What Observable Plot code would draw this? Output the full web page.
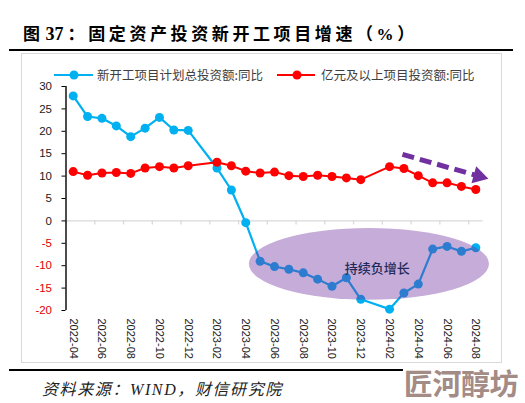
<!DOCTYPE html>
<html>
<head>
<meta charset="utf-8">
<script src="https://cdn.jsdelivr.net/npm/d3@7"></script>
<script src="https://cdn.jsdelivr.net/npm/@observablehq/plot@0.6"></script>
<style>
  html, body { margin: 0; padding: 0; background: #fff; }
  #wrap { position: relative; width: 525px; height: 403px; overflow: hidden; background: #fff; }
  .abs { position: absolute; white-space: nowrap; }
  #title { left: 23px; top: 24px; font: 700 17px/20px "Liberation Serif", "Noto Sans CJK SC", serif; letter-spacing: 3.6px; color: #000; }
  #title .num { letter-spacing: 0; margin-left: 2px; margin-right: 4px; font-size: 18px; }
  #titleRule { left: 9px; top: 48.5px; width: 504px; height: 2px; background: #000; }
  #box { left: 21px; top: 53px; width: 479px; height: 308px; border: 1px solid #D9D9D9; }
  #chart { left: 21px; top: 53px; }
  .leg { font: 400 12.5px/16px "Noto Sans CJK SC", sans-serif; color: #404040; }
  #footRule { left: 9px; top: 368.5px; width: 394px; height: 2px; background: #000; }
  #foot { left: 42px; top: 379px; font: italic 400 16px/22px "Liberation Serif", "Noto Sans CJK SC", serif; letter-spacing: 1.6px; color: #222; }
  #wm { left: 404px; top: 363px; font: 700 29px/38px "Noto Sans CJK SC", sans-serif; letter-spacing: -0.5px; color: #A38B86; }
</style>
</head>
<body>
<div id="wrap">
  <div id="title" class="abs">图<span class="num">37</span>：固定资产投资新开工项目增速（%）</div>
  <div id="titleRule" class="abs"></div>
  <div id="box" class="abs"></div>
  <div id="chart" class="abs"></div>
  <svg class="abs" style="left:0;top:0" width="525" height="100" id="legsvg"></svg>
  <div id="leg1" class="abs leg" style="left:97px; top:67px;"></div>
  <div id="leg2" class="abs leg" style="left:321px; top:67px;"></div>
  <div id="footRule" class="abs"></div>
  <div id="foot" class="abs">资料来源：WIND，财信研究院</div>
  <div id="wm" class="abs">匠河醇坊</div>
</div>
<script>
// ---- data ----
const months = ["2022-04","2022-05","2022-06","2022-07","2022-08","2022-09","2022-10","2022-11","2022-12",
  "2023-01","2023-02","2023-03","2023-04","2023-05","2023-06","2023-07","2023-08","2023-09","2023-10","2023-11","2023-12",
  "2024-01","2024-02","2024-03","2024-04","2024-05","2024-06","2024-07","2024-08"];
const newStartYoY = [27.9, 23.3, 22.9, 21.2, 18.8, 20.7, 23.1, 20.3, 20.2,
  null, 11.8, 6.9, -0.4, -9.0, -10.2, -10.8, -11.6, -13.0, -14.6, -12.7, -17.5,
  null, -19.7, -16.1, -14.1, -6.3, -5.7, -6.8, -6.0];
const bigProjYoY = [11.0, 10.2, 10.7, 10.8, 10.6, 11.8, 12.1, 11.8, 12.3,
  null, 13.1, 12.3, 11.1, 10.7, 10.9, 10.1, 9.9, 10.2, 9.9, 9.6, 9.2,
  null, 12.1, 11.7, 10.1, 8.5, 8.5, 7.7, 7.0];
const seriesNames = ["新开工项目计划总投资额:同比", "亿元及以上项目投资额:同比"];
const seriesColors = ["#00B0F0", "#FF0000"];
const yTicksPos = [0, 5, 10, 15, 20, 25, 30];
const yTicksNeg = [-5, -10, -15, -20];
const annoText = "持续负增长";
const annoPos = {i: 21.15, v: -10.6};
const ellipseSpec = {i: 20.6, v: -9.7, ri: 8.35, rv: 8.0};
const arrowSpec = {i1: 22.9, v1: 14.85, i2: 28.2, v2: 10.0};

// ---- build ----
const idx = months.map((m, i) => i);
const blue = idx.filter(i => newStartYoY[i] != null).map(i => ({i, v: newStartYoY[i]}));
const red = idx.filter(i => bigProjYoY[i] != null).map(i => ({i, v: bigProjYoY[i]}));
const labelIdx = idx.filter(i => i % 2 === 0);
const bounds = labelIdx.map(i => i - 0.5);

function ellipseMark(index, scales) {
  const sx = scales.x, sy = scales.y;
  const cx = sx(ellipseSpec.i), cy = sy(ellipseSpec.v);
  const rx = Math.abs(sx(ellipseSpec.i + ellipseSpec.ri) - cx);
  const ry = Math.abs(sy(ellipseSpec.v + ellipseSpec.rv) - cy);
  const e = document.createElementNS("http://www.w3.org/2000/svg", "ellipse");
  e.setAttribute("cx", cx); e.setAttribute("cy", cy);
  e.setAttribute("rx", rx); e.setAttribute("ry", ry);
  e.setAttribute("fill", "#7030A0"); e.setAttribute("fill-opacity", 0.4);
  const g = document.createElementNS("http://www.w3.org/2000/svg", "g");
  g.appendChild(e);
  return g;
}

const chart = Plot.plot({
  width: 481, height: 310,
  marginLeft: 44.5, marginRight: 19.5, marginTop: 33, marginBottom: 53,
  x: {domain: [-0.5, 28.5], axis: null},
  y: {domain: [-20, 30], axis: null},
  style: {background: "transparent", overflow: "visible", fontFamily: "'Liberation Sans', Arial, sans-serif"},
  marks: [
    Plot.ruleY([0], {stroke: "#D9D9D9", strokeWidth: 1.3}),
    Plot.ruleX(bounds, {x: d => d, y1: 0, y2: -0.9, stroke: "#D9D9D9", strokeWidth: 1.3}),
    Plot.ruleX([-0.5], {y1: -20, y2: 30, stroke: "#000", strokeWidth: 1.4}),
    Plot.axisY(yTicksPos, {tickSize: 4, tickPadding: 10, stroke: "#000", fill: "#1a1a1a", fontSize: 11.5, tickFormat: d => String(d)}),
    Plot.axisY(yTicksNeg, {tickSize: 4, tickPadding: 10, stroke: "#000", fill: "#E00000", fontSize: 11.5, tickFormat: d => String(d)}),
    Plot.axisX(labelIdx, {tickSize: 0, tickPadding: 8, tickRotate: 90, fontSize: 11, fill: "#1a1a1a", tickFormat: i => months[i]}),
    Plot.line(blue, {x: "i", y: "v", stroke: seriesColors[0], strokeWidth: 2.2}),
    Plot.dot(blue, {x: "i", y: "v", r: 4.5, fill: seriesColors[0]}),
    Plot.line(red, {x: "i", y: "v", stroke: seriesColors[1], strokeWidth: 2}),
    Plot.dot(red, {x: "i", y: "v", r: 4.5, fill: seriesColors[1]}),
    ellipseMark,
    Plot.text([annoPos], {x: "i", y: "v", text: () => annoText, fontSize: 13, fontWeight: 500, fill: "#1F2A5A", fontFamily: "'Noto Sans CJK SC', sans-serif"}),
    Plot.link([arrowSpec], {x1: "i1", y1: "v1", x2: "i2", y2: "v2", stroke: "#7030A0", strokeWidth: 5, strokeDasharray: "12,6"}),
    Plot.dot([arrowSpec], {x: "i2", y: "v2", symbol: "triangle", r: 6.5, fill: "#7030A0", rotate: 105.7})
  ]
});
document.getElementById("chart").appendChild(chart);

// legend
const lg = d3.select("#legsvg");
[[54, 93, 74], [277, 315, 297]].forEach(([a, b, c], k) => {
  lg.append("line").attr("x1", a).attr("x2", b).attr("y1", 75).attr("y2", 75)
    .attr("stroke", seriesColors[k]).attr("stroke-width", 2.2);
  lg.append("circle").attr("cx", c).attr("cy", 75).attr("r", 4.5).attr("fill", seriesColors[k]);
});
document.getElementById("leg1").textContent = seriesNames[0];
document.getElementById("leg2").textContent = seriesNames[1];
</script>
</body>
</html>
